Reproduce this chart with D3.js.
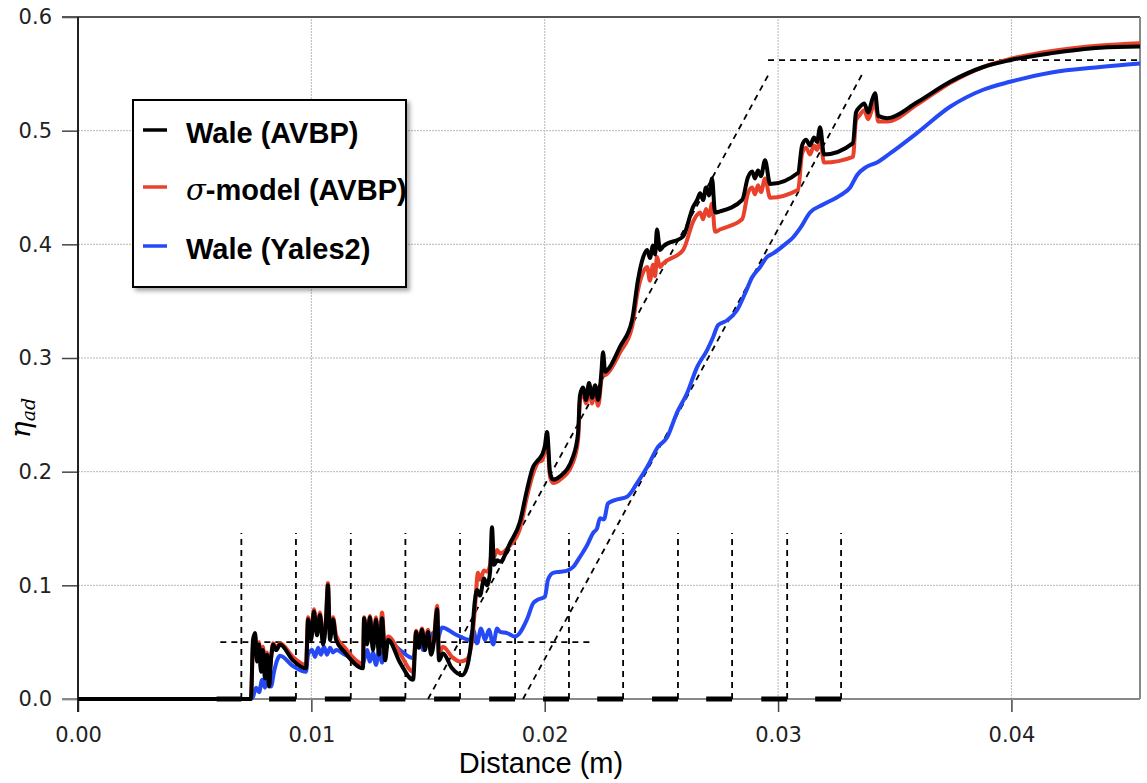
<html>
<head>
    <title>eta_ad vs distance</title>
    <style>
        body{ margin:0; background:#fff; }
        .grid{ stroke:#b8b8b8; stroke-width:1; stroke-dasharray:2,1; }
        .axis .tick text{ font-family:"DejaVu Sans", Verdana, sans-serif; font-size:21px; fill:#222; }
        .axis .tick line{ stroke:#444; stroke-width:1.5; }
        .curve{ fill:none; stroke-width:4; stroke-linejoin:round; }
        .ref{ fill:none; stroke:#000; stroke-width:1.8; stroke-dasharray:6,5; }
        .legend text{ font-family:"Liberation Sans", Arial, sans-serif; font-weight:bold; font-size:29px; fill:#000; }
    </style>
</head>
<body>
<script src="https://d3js.org/d3.v7.min.js"></script>
<script>
var width=1147, height=783;

// distance in mm, eta_ad
var waleAvbp = [[0,0],[7.41,0],[7.50,.052],[7.59,.058],[7.67,.033],[7.76,.048],[7.84,.024],[7.93,.043],[8.01,.018],[8.10,.039],[8.19,.011],[8.27,.034],[8.36,.048],[8.49,.043],[8.66,.048],[9.21,.034],[9.77,.027],
    [9.86,.070],[9.99,.052],[10.11,.077],[10.24,.056],[10.37,.074],[10.50,.048],[10.63,.070],[10.71,.100],[10.80,.052],[10.93,.070],[11.06,.052],[11.44,.041],[12.21,.027],
    [12.26,.071],[12.39,.048],[12.51,.072],[12.64,.043],[12.77,.070],[12.90,.039],[13.03,.071],[13.16,.034],[13.29,.052],[13.80,.032],[14.36,.017],
    [14.49,.059],[14.61,.045],[14.74,.061],[14.87,.043],[15.00,.059],[15.13,.039],[15.26,.052],[15.39,.079],[15.47,.034],[15.64,.040],[16.03,.027],[16.46,.021],[16.67,.028],
    [16.89,.058],[17.01,.087],[17.10,.096],[17.23,.091],[17.40,.106],[17.53,.100],[17.66,.112],[17.74,.151],[17.83,.118],[17.96,.122],[18.09,.121],[18.51,.137],[18.94,.156],
    [19.24,.184],[19.50,.204],[19.71,.210],[19.89,.215],[20.01,.223],[20.10,.235],[20.23,.199],[20.36,.193],[20.66,.196],[21.21,.213],[21.43,.234],
    [21.51,.267],[21.64,.274],[21.77,.263],[21.90,.278],[22.03,.265],[22.16,.276],[22.29,.263],[22.42,.285],[22.50,.305],[22.59,.288],[22.67,.289],[23.23,.310],[23.74,.333],
    [24.00,.369],[24.21,.388],[24.39,.395],[24.51,.388],[24.64,.399],[24.73,.391],[24.81,.413],[24.94,.395],[25.07,.398],[25.93,.407],
    [26.36,.433],[26.53,.439],[26.66,.445],[26.79,.439],[26.91,.450],[27.04,.443],[27.17,.458],[27.30,.428],[27.51,.429],[28.46,.439],
    [28.71,.459],[28.89,.464],[29.01,.458],[29.14,.465],[29.27,.460],[29.44,.474],[29.66,.453],[30.86,.463],
    [31.03,.487],[31.20,.492],[31.37,.487],[31.54,.494],[31.67,.490],[31.80,.503],[31.97,.479],[33.21,.489],
    [33.34,.516],[33.51,.521],[33.69,.524],[33.86,.516],[34.03,.527],[34.16,.533],[34.29,.513],[34.67,.511],
    [35.96,.525],[37.37,.543],[38.79,.556],[39.94,.562],[41.66,.568],[43.80,.573],[45.51,.574]];

var sigmaAvbp = [[0,0],[7.41,0],[7.50,.048],[7.59,.055],[7.67,.036],[7.76,.050],[7.84,.028],[7.93,.046],[8.01,.024],[8.10,.041],[8.19,.018],[8.27,.036],[8.36,.049],[8.49,.045],[8.66,.049],[9.21,.037],[9.77,.030],
    [9.86,.072],[9.99,.055],[10.11,.079],[10.24,.060],[10.37,.076],[10.50,.052],[10.63,.073],[10.71,.102],[10.80,.056],[10.93,.072],[11.06,.056],[11.44,.045],[12.21,.031],
    [12.26,.072],[12.39,.052],[12.51,.073],[12.64,.048],[12.77,.072],[12.90,.044],[13.03,.076],[13.16,.040],[13.29,.055],[13.80,.040],[14.36,.024],
    [14.49,.060],[14.61,.048],[14.74,.062],[14.87,.047],[15.00,.061],[15.13,.043],[15.26,.055],[15.39,.082],[15.47,.040],[15.64,.046],[16.03,.037],[16.37,.033],[16.67,.035],
    [16.89,.052],[17.01,.080],[17.14,.111],[17.23,.105],[17.40,.113],[17.53,.112],[17.66,.118],[17.74,.133],[17.83,.125],[17.96,.131],[18.09,.128],[18.51,.135],[18.94,.150],
    [19.24,.178],[19.50,.198],[19.71,.208],[19.89,.210],[20.01,.219],[20.10,.228],[20.23,.195],[20.36,.190],[20.66,.193],[21.21,.208],[21.43,.228],
    [21.51,.263],[21.64,.269],[21.77,.260],[21.90,.272],[22.03,.260],[22.16,.270],[22.29,.258],[22.42,.280],[22.50,.298],[22.59,.285],[22.67,.286],[23.23,.305],[23.74,.327],
    [24.00,.360],[24.21,.375],[24.39,.380],[24.51,.368],[24.64,.382],[24.73,.372],[24.81,.389],[24.94,.380],[25.07,.383],[25.93,.395],
    [26.36,.420],[26.53,.426],[26.66,.428],[26.79,.422],[26.91,.431],[27.04,.425],[27.17,.436],[27.30,.411],[27.51,.413],[28.46,.422],
    [28.71,.445],[28.89,.450],[29.01,.444],[29.14,.452],[29.27,.446],[29.44,.458],[29.66,.441],[30.86,.448],
    [31.03,.480],[31.20,.485],[31.37,.479],[31.54,.487],[31.67,.483],[31.80,.492],[31.97,.472],[33.21,.477],
    [33.34,.509],[33.51,.514],[33.69,.518],[33.86,.510],[34.03,.519],[34.16,.525],[34.29,.508],[34.67,.508],
    [35.96,.523],[37.37,.542],[38.79,.556],[39.94,.563],[41.66,.570],[43.80,.575],[45.51,.577]];

var waleYales2 = [[0,0],[7.41,0],[7.50,.002],[7.63,.010],[7.76,.006],[7.89,.017],[8.01,.010],[8.14,.019],[8.27,.011],[8.40,.024],[8.53,.034],[8.66,.038],[9.21,.029],[9.77,.024],
    [9.86,.039],[10.03,.043],[10.16,.037],[10.29,.045],[10.41,.039],[10.54,.046],[10.67,.039],[10.80,.045],[10.93,.041],[11.06,.043],[11.44,.039],[12.21,.031],
    [12.26,.034],[12.39,.043],[12.51,.033],[12.64,.041],[12.77,.030],[12.90,.043],[13.03,.032],[13.16,.048],[13.29,.051],[13.80,.043],[14.36,.036],
    [14.49,.048],[14.66,.052],[14.79,.043],[14.91,.056],[15.09,.048],[15.21,.058],[15.39,.052],[15.60,.063],[16.16,.057],[16.80,.052],
    [16.93,.061],[17.10,.049],[17.27,.062],[17.44,.052],[17.61,.061],[17.79,.048],[17.96,.062],[18.09,.059],[18.39,.058],[18.73,.055],
    [19.24,.070],[19.50,.084],[19.67,.087],[20.01,.090],[20.14,.105],[20.36,.111],[20.66,.112],[20.96,.113],[21.21,.116],[21.51,.125],[21.81,.135],
    [22.07,.146],[22.24,.150],[22.37,.159],[22.54,.158],[22.71,.172],[23.01,.175],[23.53,.178],[23.96,.190],[24.39,.204],[24.86,.222],[25.24,.230],
    [25.67,.252],[26.10,.269],[26.53,.292],[26.96,.307],[27.21,.318],[27.43,.329],[27.81,.333],[28.24,.342],[28.59,.357],[28.89,.371],[29.23,.380],
    [29.53,.389],[29.79,.392],[30.30,.400],[30.64,.406],[30.94,.414],[31.37,.428],[31.93,.435],[32.66,.443],[33.09,.450],[33.39,.461],[33.77,.468],
    [34.24,.472],[34.80,.480],[35.96,.498],[37.37,.521],[38.79,.536],[39.94,.543],[41.66,.551],[43.80,.556],[45.51,.559]];

// dashed markers (mm) and thick segments on the axis
var markerX = [7.00, 9.34, 11.69, 14.03, 16.37, 18.73, 21.04, 23.36, 25.71, 28.03, 30.39, 32.70];
var markerTop = 0.146;
var axisSegs = [[5.94,7.00],[8.19,9.34],[10.58,11.69],[12.92,14.03],[15.26,16.37],[17.62,18.73],[19.93,21.04],[22.25,23.36],[24.60,25.71],[26.92,28.03],[29.28,30.39],[31.59,32.70]];
// dashed guide lines: [x1 mm, y1, x2 mm, y2]
var guides = [[6.1,0.05,22.1,0.05],[15.0,0,29.61,0.550],[19.07,0,33.64,0.551],[29.57,0.562,45.51,0.562]];

var xTicks = [0, 0.01, 0.02, 0.03, 0.04];
var yTicks = [0, 0.1, 0.2, 0.3, 0.4, 0.5, 0.6];
var seriesNames = ["Wale (AVBP)", "-model (AVBP)", "Wale (Yales2)"];
var seriesColors = ["#000000", "#e8412c", "#2449f5"];

var svgContainer = d3.select("body").append("svg")
                                    .attr("width", width)
                                    .attr("height", height);

var x = d3.scaleLinear().domain([0, 0.04551]).range([78, 1140]);
var y = d3.scaleLinear().domain([0, 0.6]).range([699, 17]);

// grid
svgContainer.selectAll(".gx").data(xTicks.slice(1)).enter().append("line")
    .attr("class","grid").attr("x1", d => x(d)).attr("x2", d => x(d))
    .attr("y1", y(0)).attr("y2", y(0.6));
svgContainer.selectAll(".gy").data(yTicks.slice(1,6)).enter().append("line")
    .attr("class","grid").attr("y1", d => y(d)).attr("y2", d => y(d))
    .attr("x1", x(0)).attr("x2", x.range()[1]);

// axes
var yAxis = svgContainer.append("g").attr("class","axis")
    .attr("transform","translate(" + x(0) + ",0)")
    .call(d3.axisLeft(y).tickValues(yTicks).tickFormat(d3.format(".1f")).tickSize(16).tickPadding(10));
var xAxis = svgContainer.append("g").attr("class","axis")
    .attr("transform","translate(0," + y(0) + ")")
    .call(d3.axisBottom(x).tickValues(xTicks).tickFormat(d3.format(".2f")).tickSize(13).tickPadding(15));
svgContainer.selectAll(".axis .domain").remove();

// frame
function drawLine(x1,y1,x2,y2,color,w){
    svgContainer.append("line")
                .attr("x1", x1).attr("y1", y1)
                .attr("x2", x2).attr("y2", y2)
                .attr("stroke-width", w)
                .attr("stroke", color);
}
drawLine(62, y(0.6), x.range()[1], y(0.6), "#555", 2);
drawLine(62, y(0), x.range()[1], y(0), "#888", 2);
drawLine(x.range()[1], y(0.6), x.range()[1], y(0), "#888", 2);
drawLine(x(0), y(0.6), x(0), y(0)+13, "#222", 2);

// dashed markers
svgContainer.selectAll(".mk").data(markerX).enter().append("line")
    .attr("class","ref").attr("x1", d => x(d/1000)).attr("x2", d => x(d/1000))
    .attr("y1", y(0)).attr("y2", y(markerTop));
svgContainer.selectAll(".seg").data(axisSegs).enter().append("line")
    .attr("x1", d => x(d[0]/1000)).attr("x2", d => x(d[1]/1000))
    .attr("y1", y(0)).attr("y2", y(0))
    .attr("stroke","#000").attr("stroke-width",5);
svgContainer.selectAll(".gd").data(guides).enter().append("line")
    .attr("class","ref")
    .attr("x1", d => x(d[0]/1000)).attr("y1", d => y(d[1]))
    .attr("x2", d => x(d[2]/1000)).attr("y2", d => y(d[3]));

// curves
var line = d3.line().curve(d3.curveMonotoneX).x(d => x(d[0]/1000)).y(d => y(d[1]));
[[waleYales2, 2], [sigmaAvbp, 1], [waleAvbp, 0]].forEach(function(s){
    svgContainer.append("path").datum(s[0])
        .attr("class","curve")
        .attr("stroke", seriesColors[s[1]])
        .attr("d", line);
});

// axis labels
svgContainer.append("text")
    .attr("x", 541).attr("y", 773)
    .attr("text-anchor","middle")
    .style("font-family","'Liberation Sans', Arial, sans-serif")
    .style("font-size","29px")
    .text("Distance (m)");
var yl = svgContainer.append("text")
    .attr("transform","translate(30,418) rotate(-90)")
    .attr("text-anchor","middle")
    .style("font-family","'DejaVu Serif', 'Liberation Serif', serif")
    .style("font-style","italic");
yl.append("tspan").style("font-size","28px").text("η");
yl.append("tspan").style("font-size","19px").attr("dy", 5).text("ad");

// legend
var defs = svgContainer.append("defs");
var f = defs.append("filter").attr("id","shadow").attr("x","-10%").attr("y","-10%").attr("width","130%").attr("height","130%");
f.append("feDropShadow").attr("dx",3).attr("dy",3).attr("stdDeviation",2).attr("flood-color","#000").attr("flood-opacity",0.35);

var legend = svgContainer.append("g").attr("class","legend");
legend.append("rect")
    .attr("x",133).attr("y",100).attr("width",273).attr("height",187)
    .attr("fill","#fff").attr("stroke","#000").attr("stroke-width",2)
    .attr("filter","url(#shadow)");
var legY = [130, 187, 246];
seriesNames.forEach(function(name, i){
    legend.append("line")
        .attr("x1",143).attr("x2",167).attr("y1",legY[i]).attr("y2",legY[i])
        .attr("stroke", seriesColors[i]).attr("stroke-width",3.5);
    var t = legend.append("text").attr("x",186).attr("y",legY[i]+13);
    if(i==1){
        t.append("tspan")
         .style("font-family","'DejaVu Serif', 'Liberation Serif', serif")
         .style("font-style","italic").style("font-weight","normal")
         .text("σ");
    }
    t.append("tspan").text(name);
});
</script>
</body>
</html>
